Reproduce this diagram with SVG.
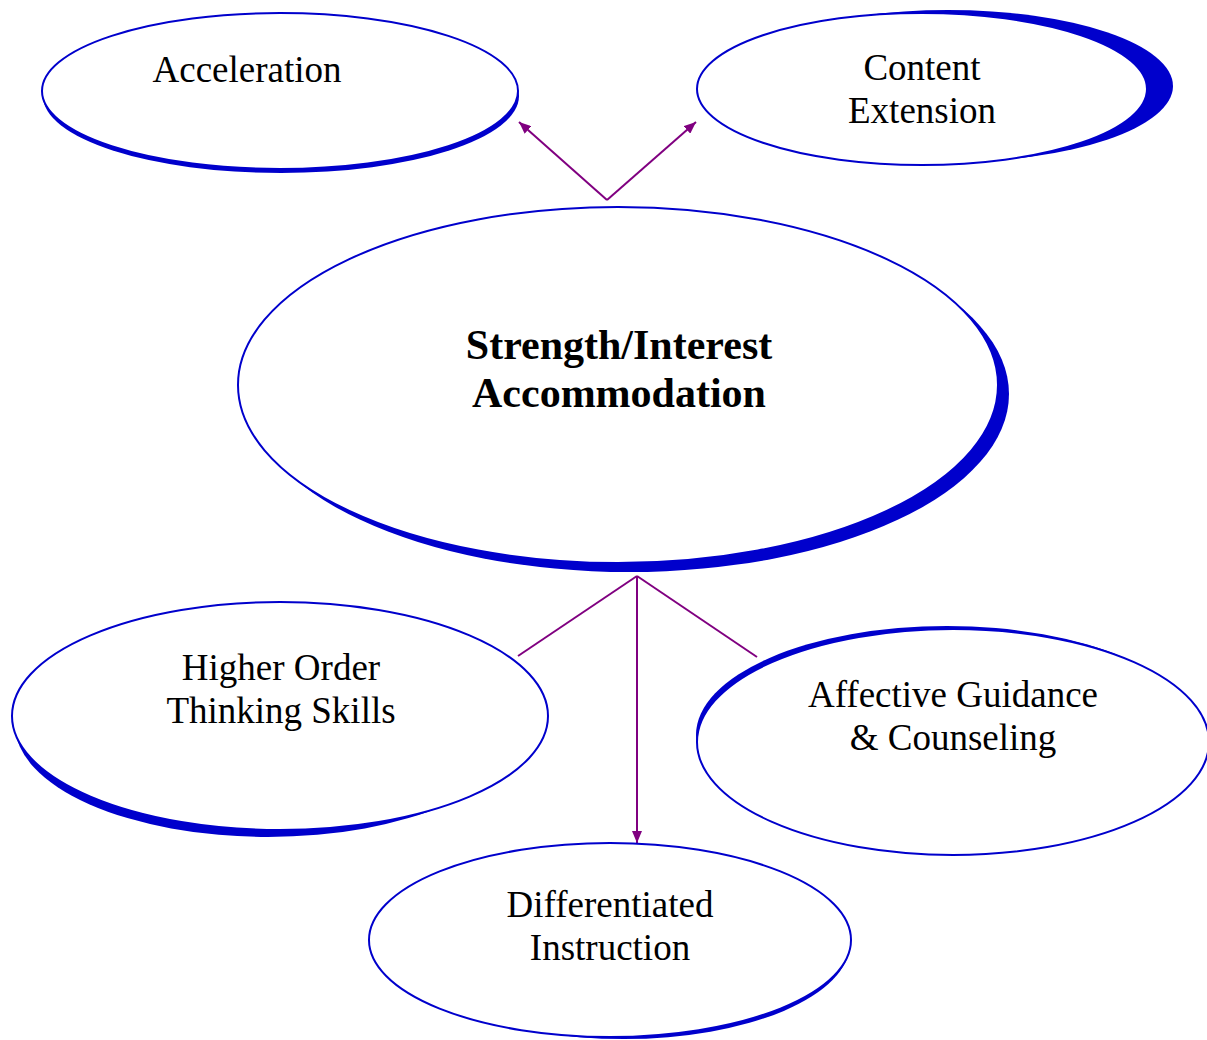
<svg xmlns="http://www.w3.org/2000/svg" width="1207" height="1040" viewBox="0 0 1207 1040">
<defs>
<style>
.sh{fill:#0000cc;stroke:none}
.el{fill:#ffffff;stroke:#0000cc;stroke-width:2}
.t{font-family:"Liberation Serif","Times New Roman",serif;font-size:37px;fill:#000;text-anchor:middle}
.tb{font-family:"Liberation Serif","Times New Roman",serif;font-size:42px;font-weight:bold;fill:#000;text-anchor:middle}
.c{stroke:#800080;stroke-width:2;fill:none}
</style>
<marker id="ah" viewBox="0 0 12 10" refX="12" refY="5" markerWidth="12" markerHeight="10" markerUnits="userSpaceOnUse" orient="auto">
<path d="M0,0 L12,5 L0,10 Z" fill="#800080"/>
</marker>
</defs>
<rect width="1207" height="1040" fill="#ffffff"/>
<g id="connectors">
<line class="c" x1="607" y1="200" x2="519" y2="122" marker-end="url(#ah)"/>
<line class="c" x1="607" y1="200" x2="696" y2="122" marker-end="url(#ah)"/>
<line class="c" x1="637" y1="576" x2="518" y2="656"/>
<line class="c" x1="637" y1="576" x2="757" y2="657"/>
<line class="c" x1="637" y1="576" x2="637" y2="843" marker-end="url(#ah)"/>
</g>
<g id="acceleration">
<ellipse class="sh" cx="281" cy="96" rx="238" ry="77"/>
<ellipse class="el" cx="280" cy="91" rx="238" ry="78"/>
<text class="t" x="247" y="82">Acceleration</text>
</g>
<g id="content-extension">
<ellipse class="sh" cx="948" cy="86" rx="225" ry="76"/>
<ellipse class="el" cx="922" cy="89" rx="225" ry="76"/>
<text class="t" x="922" y="80">Content</text>
<text class="t" x="922" y="123">Extension</text>
</g>
<g id="strength-interest">
<ellipse class="sh" cx="629" cy="394" rx="380" ry="178"/>
<ellipse class="el" cx="618" cy="385" rx="380" ry="178"/>
<text class="tb" x="619" y="359">Strength/Interest</text>
<text class="tb" x="619" y="407">Accommodation</text>
</g>
<g id="higher-order">
<ellipse class="sh" cx="268" cy="725" rx="253" ry="112"/>
<ellipse class="el" cx="280" cy="716" rx="268" ry="114"/>
<text class="t" x="281" y="680">Higher Order</text>
<text class="t" x="281" y="723">Thinking Skills</text>
</g>
<g id="differentiated">
<ellipse class="sh" cx="624" cy="943" rx="226" ry="96"/>
<ellipse class="el" cx="610" cy="940" rx="241" ry="97"/>
<text class="t" x="610" y="917">Differentiated</text>
<text class="t" x="610" y="960">Instruction</text>
</g>
<g id="affective">
<ellipse class="sh" cx="947" cy="735" rx="251" ry="109"/>
<ellipse class="el" cx="953" cy="742" rx="256" ry="113"/>
<text class="t" x="953" y="707">Affective Guidance</text>
<text class="t" x="953" y="750">&amp; Counseling</text>
</g>
</svg>
